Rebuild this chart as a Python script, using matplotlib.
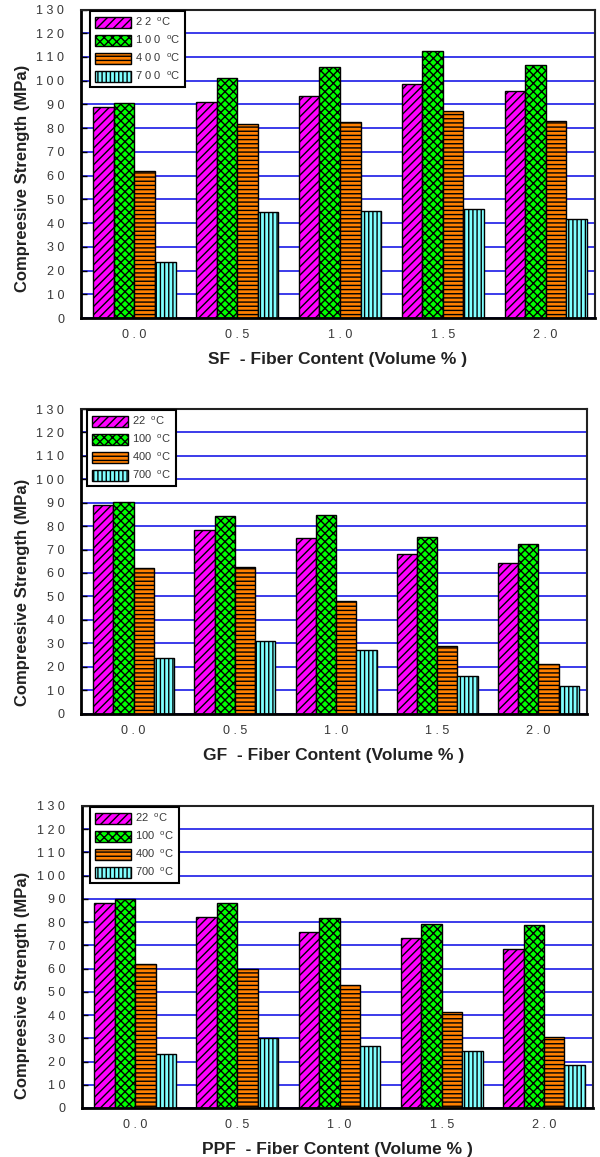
import matplotlib
matplotlib.use("Agg")
import matplotlib.pyplot as plt
import numpy as np

plt.rcParams['font.family'] = ['Liberation Sans', 'DejaVu Sans']
plt.rcParams['mathtext.fontset'] = 'custom'
plt.rcParams['mathtext.rm'] = 'Liberation Sans'
plt.rcParams['hatch.linewidth'] = 1.0

# ---- data ----
fiber_content = ['0.0', '0.5', '1.0', '1.5', '2.0']
temperatures = ['22', '100', '400', '700']
y_ticks = [0, 10, 20, 30, 40, 50, 60, 70, 80, 90, 100, 110, 120, 130]

sf_22 = [88.8, 90.9, 93.6, 98.5, 95.8]
sf_100 = [90.5, 101.1, 105.9, 112.4, 106.5]
sf_400 = [62.1, 81.9, 82.5, 87.2, 82.9]
sf_700 = [23.6, 44.5, 45.1, 46.1, 41.8]

gf_22 = [88.9, 78.2, 74.8, 68.1, 64.1]
gf_100 = [90.4, 84.5, 84.9, 75.4, 72.2]
gf_400 = [62.0, 62.6, 47.9, 29.0, 21.3]
gf_700 = [23.8, 31.1, 27.0, 15.9, 11.7]

ppf_22 = [88.4, 82.2, 75.6, 73.1, 68.4]
ppf_100 = [90.0, 88.4, 81.8, 79.4, 78.6]
ppf_400 = [61.9, 59.7, 53.1, 41.5, 30.7]
ppf_700 = [23.4, 30.1, 26.6, 24.5, 18.4]

fiber_types = ['SF', 'GF', 'PPF']

# ---- styles ----
colors = ['#ff00ff', '#00ff00', '#ff8000', '#80ffff']
hatches = ['////', 'xxxx', '----', '||||']
txt_gray = '#383838'

H = 1157.0
W = 600.0


def spaced(s):
    return ' '.join(list(s))


def panel(fig, box, series, fiber, legend_anchor, spaced_legend, ylabel_center_px):
    l, r, t, b = box
    ax = fig.add_axes([l / W, 1 - b / H, (r - l) / W, (b - t) / H])
    x = np.arange(len(fiber_content))
    w = 0.2
    handles = []
    for j, vals in enumerate(series):
        bars = ax.bar(x + (j - 1.5) * w, vals, width=w, color=colors[j],
                      edgecolor='black', linewidth=1.0, hatch=hatches[j], zorder=2)
        handles.append(bars)
    ax.set_xlim(-0.52, 4.48)
    ax.set_ylim(0, 130)
    ax.set_yticks(y_ticks)
    ax.set_yticklabels([spaced(str(v)) for v in y_ticks], color=txt_gray, fontsize=9)
    ax.set_xticks(x)
    ax.set_xticklabels([spaced(s) for s in fiber_content], color=txt_gray, fontsize=9)
    ax.tick_params(axis='x', length=0, pad=8)
    ax.tick_params(axis='y', direction='in', length=4, width=1, color='black', pad=12)
    ax.set_axisbelow(True)
    ax.yaxis.grid(True, color='#1a1ae6', linewidth=1.2)
    for s in ['left', 'bottom']:
        ax.spines[s].set_linewidth(2.0)
        ax.spines[s].set_color('black')
    for s in ['top', 'right']:
        ax.spines[s].set_linewidth(1.5)
        ax.spines[s].set_color('#222222')
    ax.set_ylabel('Compreesive Strength (MPa)', fontsize=12, fontweight='bold',
                  color='#222222')
    ax.set_xlabel(fiber + '  - Fiber Content (Volume % )', fontsize=12.5,
                  fontweight='bold', color='#222222', labelpad=8)
    ax.yaxis.set_label_coords((30 - l) / (r - l), (b - ylabel_center_px) / (b - t))
    if spaced_legend:
        labels = [spaced(tt) + r'  $^{\rm o}$C' for tt in temperatures]
    else:
        labels = [tt + r'  $^{\rm o}$C' for tt in temperatures]
    leg = ax.legend(handles, labels, loc='upper left', bbox_to_anchor=legend_anchor,
                    frameon=True, fancybox=False, framealpha=1, edgecolor='black',
                    fontsize=8, handlelength=3.2, handleheight=1.1, labelspacing=0.5,
                    borderpad=0.45, handletextpad=0.4, borderaxespad=0)
    leg.get_frame().set_linewidth(1.5)
    for tx in leg.get_texts():
        tx.set_color(txt_gray)
    return ax


fig = plt.figure(figsize=(6, 11.57), dpi=100)

panel(fig, (81, 595, 9.5, 318), [sf_22, sf_100, sf_400, sf_700], fiber_types[0],
      (0.0175, 0.996), True, 178)
panel(fig, (81, 587, 409, 713.5), [gf_22, gf_100, gf_400, gf_700], fiber_types[1],
      (0.012, 0.997), False, 592)
panel(fig, (82, 593, 806, 1108), [ppf_22, ppf_100, ppf_400, ppf_700], fiber_types[2],
      (0.016, 0.997), False, 985)

fig.savefig('out.png', dpi=100)
